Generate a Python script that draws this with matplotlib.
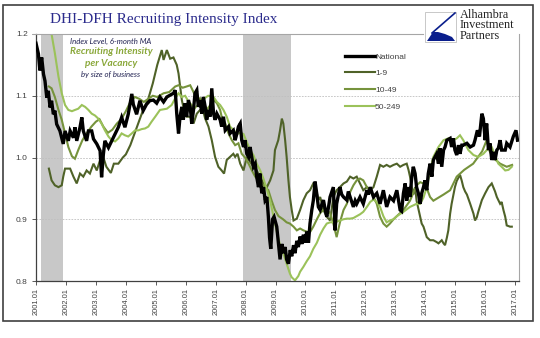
import matplotlib
matplotlib.use("Agg")
import matplotlib.pyplot as plt
from matplotlib.patches import Rectangle, Polygon
from matplotlib.lines import Line2D

# ---------------- data (decimal years, index level) ----------------
nat_t = [2001.00,2001.08,2001.13,2001.19,2001.25,2001.30,2001.36,2001.41,2001.47,2001.52,2001.58,2001.63,2001.69,2001.80,2001.91,2001.97,
         2002.08,2002.14,2002.25,2002.30,2002.36,2002.47,2002.53,2002.58,2002.69,2002.75,2002.86,2002.92,2003.03,2003.14,2003.19,2003.25,
         2003.30,2003.42,2003.53,2003.64,2003.75,2003.86,2003.97,2004.08,2004.20,2004.25,2004.36,2004.47,2004.58,2004.69,2004.80,2004.92,
         2005.03,2005.14,2005.26,2005.37,2005.48,2005.59,2005.65,2005.70,2005.76,2005.81,2005.87,2005.92,2005.98,2006.03,2006.09,2006.15,
         2006.20,2006.26,2006.31,2006.37,2006.42,2006.48,2006.54,2006.59,2006.65,2006.70,2006.76,2006.81,2006.87,2006.93,2006.98,2007.04,
         2007.15,2007.20,2007.26,2007.32,2007.43,2007.48,2007.59,2007.65,2007.71,2007.76,2007.82,2007.87,2007.93,2007.98,2008.04,2008.10,
         2008.15,2008.26,2008.32,2008.37,2008.43,2008.48,2008.54,2008.60,2008.65,2008.71,2008.76,2008.80,2008.84,2008.90,2008.95,2009.04,
         2009.10,2009.15,2009.21,2009.26,2009.32,2009.37,2009.43,2009.49,2009.54,2009.60,2009.65,2009.71,2009.76,2009.82,2009.88,2009.93,
         2009.99,2010.04,2010.10,2010.15,2010.21,2010.26,2010.32,2010.38,2010.43,2010.49,2010.55,2010.60,2010.66,2010.71,2010.77,2010.82,
         2010.88,2010.93,2010.99,2011.04,2011.10,2011.15,2011.21,2011.27,2011.38,2011.43,2011.49,2011.60,2011.66,2011.71,2011.82,2011.88,
         2011.93,2012.05,2012.10,2012.16,2012.27,2012.38,2012.49,2012.60,2012.71,2012.82,2012.94,2013.05,2013.16,2013.21,2013.27,2013.33,
         2013.38,2013.44,2013.49,2013.55,2013.60,2013.66,2013.71,2013.77,2013.83,2013.88,2013.94,2013.99,2014.05,2014.10,2014.16,2014.22,
         2014.27,2014.38,2014.44,2014.49,2014.55,2014.61,2014.66,2014.72,2014.83,2014.88,2014.94,2014.99,2015.05,2015.11,2015.16,2015.22,
         2015.27,2015.39,2015.50,2015.61,2015.66,2015.74,2015.81,2015.89,2015.94,2016.00,2016.05,2016.11,2016.16,2016.22,2016.28,2016.33,
         2016.39,2016.44,2016.50,2016.55,2016.67,2016.72,2016.83,2016.94,2017.03,2017.08]
nat_v = [1.185,1.168,1.141,1.162,1.135,1.124,1.097,1.108,1.081,1.092,1.070,1.076,1.054,1.043,1.022,1.043,
         1.027,1.043,1.032,1.049,1.027,1.049,1.065,1.043,1.027,1.043,1.043,1.030,1.022,1.011,0.968,1.005,
         1.027,1.016,1.027,1.038,1.049,1.065,1.049,1.070,1.103,1.086,1.070,1.092,1.076,1.086,1.092,1.093,
         1.088,1.098,1.090,1.098,1.101,1.104,1.109,1.071,1.039,1.066,1.082,1.061,1.088,1.066,1.093,1.082,
         1.055,1.077,1.104,1.109,1.082,1.093,1.071,1.098,1.082,1.061,1.077,1.066,1.112,1.071,1.061,1.071,
         1.061,1.050,1.066,1.044,1.050,1.039,1.044,1.028,1.039,1.050,1.055,1.028,1.017,1.028,1.006,1.001,
         1.017,0.985,0.990,0.969,0.952,0.974,0.942,0.952,0.931,0.936,0.904,0.870,0.852,0.900,0.904,0.888,
         0.860,0.835,0.860,0.845,0.855,0.835,0.828,0.850,0.840,0.858,0.845,0.865,0.855,0.872,0.860,0.875,
         0.862,0.880,0.862,0.893,0.915,0.930,0.961,0.940,0.920,0.915,0.925,0.931,0.915,0.904,0.920,0.936,
         0.945,0.952,0.882,0.925,0.940,0.952,0.940,0.936,0.931,0.945,0.936,0.920,0.930,0.925,0.936,0.930,
         0.925,0.947,0.940,0.952,0.936,0.942,0.925,0.947,0.920,0.936,0.930,0.947,0.915,0.913,0.942,0.958,
         0.930,0.952,0.936,0.969,0.985,0.974,0.952,0.942,0.925,0.942,0.952,0.963,0.947,0.974,0.990,0.969,
         0.996,1.006,0.990,1.015,0.985,1.012,1.017,1.028,1.031,1.017,1.031,1.012,1.004,1.020,1.006,1.020,
         1.020,1.023,1.017,1.020,1.028,1.044,1.034,1.071,1.063,1.028,1.055,1.012,1.023,0.996,1.009,0.996,
         1.012,1.015,1.028,1.012,1.012,1.023,1.017,1.034,1.044,1.028]

s19_t = [2001.43,2001.52,2001.63,2001.75,2001.86,2001.91,2001.97,2002.14,2002.25,2002.36,2002.47,2002.58,2002.69,2002.80,2002.92,2003.03,
         2003.14,2003.25,2003.35,2003.50,2003.60,2003.75,2003.90,2004.00,2004.15,2004.30,2004.45,2004.60,2004.75,2004.90,2005.05,2005.20,
         2005.26,2005.37,2005.48,2005.59,2005.70,2005.76,2005.87,2005.92,2006.03,2006.15,2006.26,2006.37,2006.48,2006.59,2006.65,2006.76,
         2006.87,2006.98,2007.09,2007.20,2007.28,2007.37,2007.48,2007.59,2007.65,2007.73,2007.82,2007.93,2008.04,2008.15,2008.26,2008.37,
         2008.48,2008.60,2008.71,2008.82,2008.93,2008.98,2009.09,2009.15,2009.21,2009.26,2009.32,2009.37,2009.43,2009.48,2009.54,2009.60,
         2009.71,2009.82,2009.93,2010.04,2010.15,2010.26,2010.32,2010.38,2010.43,2010.49,2010.60,2010.71,2010.82,2010.93,2011.04,2011.15,
         2011.27,2011.38,2011.49,2011.60,2011.71,2011.82,2011.93,2012.05,2012.16,2012.27,2012.38,2012.49,2012.60,2012.71,2012.82,2012.94,
         2013.05,2013.16,2013.27,2013.38,2013.44,2013.49,2013.55,2013.60,2013.66,2013.71,2013.83,2013.88,2013.94,2014.05,2014.16,2014.27,
         2014.38,2014.44,2014.55,2014.61,2014.66,2014.72,2014.77,2014.83,2014.88,2014.94,2014.99,2015.05,2015.16,2015.22,2015.27,2015.33,
         2015.39,2015.50,2015.61,2015.66,2015.72,2015.77,2015.89,2016.00,2016.11,2016.22,2016.33,2016.39,2016.50,2016.55,2016.61,2016.67,
         2016.72,2016.83,2016.89]
s19_v = [0.982,0.963,0.955,0.952,0.955,0.969,0.982,0.982,0.969,0.958,0.974,0.969,0.979,0.974,0.990,0.979,
         0.996,1.000,0.985,0.975,0.990,0.990,1.000,1.005,1.020,1.040,1.060,1.080,1.095,1.120,1.150,1.174,
         1.158,1.174,1.160,1.162,1.150,1.136,1.093,1.082,1.066,1.066,1.055,1.071,1.077,1.074,1.063,1.050,
         1.028,1.001,0.985,0.979,0.974,0.996,1.001,1.006,1.001,1.006,0.990,0.979,1.001,0.993,0.985,0.979,
         0.969,0.958,0.952,0.963,0.979,1.012,1.028,1.044,1.063,1.055,1.028,1.001,0.963,0.936,0.915,0.898,
         0.901,0.915,0.931,0.942,0.947,0.958,0.955,0.942,0.931,0.936,0.915,0.904,0.898,0.936,0.947,0.952,
         0.958,0.961,0.969,0.966,0.969,0.958,0.947,0.952,0.947,0.952,0.969,0.988,0.985,0.988,0.985,0.988,
         0.990,0.985,0.988,0.990,0.980,0.969,0.952,0.940,0.952,0.930,0.904,0.893,0.888,0.871,0.866,0.866,
         0.863,0.861,0.866,0.861,0.858,0.870,0.882,0.909,0.925,0.940,0.952,0.962,0.972,0.962,0.952,0.945,
         0.940,0.925,0.909,0.898,0.903,0.912,0.931,0.942,0.952,0.958,0.945,0.936,0.925,0.928,0.915,0.904,
         0.890,0.888,0.888]

s1049_t = [2001.43,2001.52,2001.63,2001.75,2001.86,2001.97,2002.08,2002.20,2002.30,2002.41,2002.55,2002.69,2002.85,2003.00,2003.12,2003.25,
           2003.40,2003.55,2003.70,2003.85,2004.00,2004.15,2004.30,2004.45,2004.60,2004.75,2004.90,2005.05,2005.26,2005.45,2005.65,2005.76,
           2005.90,2006.03,2006.15,2006.26,2006.37,2006.48,2006.59,2006.70,2006.82,2006.93,2007.04,2007.15,2007.20,2007.32,2007.43,2007.54,
           2007.65,2007.76,2007.87,2007.98,2008.10,2008.21,2008.32,2008.43,2008.54,2008.65,2008.76,2008.87,2008.98,2009.10,2009.25,2009.37,
           2009.48,2009.60,2009.71,2009.82,2009.93,2010.04,2010.15,2010.26,2010.38,2010.49,2010.60,2010.71,2010.82,2010.93,2011.04,2011.15,
           2011.27,2011.38,2011.50,2011.60,2011.71,2011.82,2011.93,2012.05,2012.16,2012.27,2012.38,2012.49,2012.60,2012.71,2012.82,2012.94,
           2013.05,2013.27,2013.49,2013.71,2013.83,2013.94,2014.05,2014.16,2014.27,2014.44,2014.61,2014.83,2015.05,2015.30,2015.60,2015.90,
           2016.05,2016.15,2016.30,2016.50,2016.72,2016.90]
s1049_v = [1.115,1.112,1.098,1.077,1.061,1.039,1.017,1.002,0.998,1.012,1.028,1.039,1.050,1.058,1.062,1.050,
           1.040,1.045,1.055,1.062,1.075,1.090,1.098,1.095,1.090,1.095,1.100,1.098,1.104,1.106,1.115,1.117,
           1.113,1.115,1.117,1.106,1.093,1.096,1.090,1.077,1.085,1.093,1.088,1.077,1.066,1.055,1.039,1.028,
           1.020,1.023,1.006,1.000,0.990,0.979,0.969,0.963,0.958,0.952,0.947,0.930,0.915,0.905,0.900,0.895,
           0.893,0.888,0.882,0.885,0.882,0.880,0.879,0.888,0.900,0.910,0.915,0.915,0.910,0.893,0.871,0.895,
           0.915,0.925,0.945,0.955,0.963,0.966,0.963,0.952,0.947,0.936,0.925,0.904,0.893,0.888,0.893,0.900,
           0.905,0.915,0.930,0.955,0.960,0.958,0.950,0.936,0.930,0.935,0.940,0.947,0.969,0.980,0.990,1.010,
           1.028,1.010,0.998,0.990,0.985,0.988]

s50_t = [2001.43,2001.52,2001.63,2001.75,2001.86,2001.97,2002.08,2002.20,2002.30,2002.41,2002.53,2002.64,2002.75,2002.86,2002.97,2003.08,
         2003.19,2003.30,2003.42,2003.53,2003.64,2003.75,2003.86,2003.97,2004.08,2004.20,2004.31,2004.42,2004.53,2004.64,2004.75,2004.86,
         2004.98,2005.14,2005.37,2005.53,2005.65,2005.76,2005.87,2005.98,2006.10,2006.20,2006.30,2006.45,2006.60,2006.75,2006.93,2007.04,
         2007.15,2007.26,2007.37,2007.48,2007.59,2007.71,2007.82,2007.93,2008.04,2008.15,2008.26,2008.37,2008.48,2008.60,2008.71,2008.82,
         2008.93,2009.04,2009.15,2009.26,2009.37,2009.48,2009.54,2009.65,2009.76,2009.82,2009.93,2010.04,2010.15,2010.26,2010.38,2010.49,
         2010.60,2010.71,2010.82,2010.93,2011.04,2011.15,2011.27,2011.38,2011.49,2011.60,2011.71,2011.82,2011.93,2012.05,2012.16,2012.27,
         2012.38,2012.49,2012.60,2012.71,2012.82,2012.94,2013.05,2013.27,2013.49,2013.71,2013.83,2013.94,2014.05,2014.16,2014.27,2014.44,
         2014.61,2014.77,2014.94,2015.05,2015.16,2015.27,2015.44,2015.61,2015.77,2015.94,2016.11,2016.22,2016.33,2016.44,2016.55,2016.67,
         2016.78,2016.89]
s50_v = [1.225,1.200,1.169,1.131,1.104,1.085,1.077,1.075,1.077,1.079,1.085,1.082,1.077,1.071,1.068,1.063,
         1.055,1.044,1.034,1.028,1.026,1.031,1.039,1.036,1.034,1.039,1.044,1.044,1.046,1.047,1.050,1.058,
         1.066,1.077,1.079,1.085,1.096,1.104,1.098,1.100,1.090,1.085,1.080,1.087,1.095,1.100,1.098,1.090,
         1.085,1.077,1.066,1.050,1.045,1.038,1.040,1.038,1.025,1.012,1.004,0.990,0.980,0.965,0.948,0.930,
         0.905,0.880,0.858,0.845,0.828,0.812,0.806,0.801,0.808,0.815,0.823,0.832,0.840,0.852,0.862,0.875,
         0.885,0.893,0.895,0.895,0.896,0.898,0.900,0.901,0.901,0.902,0.905,0.908,0.912,0.920,0.928,0.932,
         0.928,0.920,0.905,0.895,0.898,0.900,0.905,0.912,0.920,0.925,0.925,0.935,0.952,0.979,1.001,1.017,
         1.028,1.031,1.028,1.031,1.036,1.028,1.012,1.004,1.001,1.006,1.015,1.017,1.003,0.990,0.985,0.979,
         0.980,0.985]

series_names = ["National", "1-9", "10-49", "50-249"]
series_colors = ["#000000", "#4F6228", "#76933C", "#9BC25A"]
series_widths = [2.4, 1.5, 1.5, 1.5]
recessions = [(2001.17, 2001.90), (2007.92, 2009.50)]
year_ticks = list(range(2001, 2018))
year_labels = [f"{y}.01" for y in year_ticks]
y_ticks = [0.8, 0.9, 1.0, 1.1, 1.2]

# ---------------- figure ----------------
W, H = 540, 338
fig = plt.figure(figsize=(W / 100, H / 100), dpi=100)
fig.patch.set_facecolor("white")

def fx(px):
    return px / W

def fy(py):
    return 1 - py / H

ax = fig.add_axes([fx(36), fy(281), fx(519) - fx(36), fy(34) - fy(281)])
ax.set_xlim(2001.0, 2017.13)
ax.set_ylim(0.8, 1.2)

for a, b in recessions:
    ax.axvspan(a, b, color="#C8C8C8", lw=0, zorder=0)

for v in [0.9, 1.0, 1.1]:
    ax.axhline(v, color="#BFBFBF", lw=0.6, ls=(0, (2, 1.5)), zorder=0.5)

data = [(nat_t, nat_v), (s19_t, s19_v), (s1049_t, s1049_v), (s50_t, s50_v)]
order = [1, 2, 3, 0]
handles = {}
for i in order:
    t, v = data[i]
    ln, = ax.plot(t, v, color=series_colors[i], lw=series_widths[i], label=series_names[i],
                  solid_joinstyle="miter", zorder=2 + (1 if i == 0 else 0))
    handles[i] = ln

ax.set_xticks(year_ticks)
ax.set_xticklabels(year_labels, rotation=90, fontsize=5.4, family="Liberation Sans", color="#404040")
ax.set_yticks(y_ticks)
ax.set_yticklabels([f"{v:.1f}" for v in y_ticks], fontsize=6.0, family="Liberation Sans", color="#404040")
ax.tick_params(axis="x", length=3, width=0.6, color="#404040", pad=2)
ax.tick_params(axis="y", length=3, width=0.6, color="#404040", pad=3)

ax.spines["top"].set_visible(False)
ax.spines["right"].set_color("#A6A6A6")
ax.spines["right"].set_linewidth(0.8)
ax.spines["left"].set_color("#404040")
ax.spines["left"].set_linewidth(0.9)
ax.spines["bottom"].set_color("#404040")
ax.spines["bottom"].set_linewidth(0.9)

leg = ax.legend([handles[i] for i in range(4)], series_names, loc="upper left",
                bbox_to_anchor=((345 - 36) / (519 - 36), 1 - (53 - 34) / (281 - 34)),
                frameon=False, handlelength=3.6, handletextpad=0.0,
                labelspacing=1.05, borderaxespad=0, borderpad=0,
                prop={"family": "Liberation Sans", "size": 6})
for txt in leg.get_texts():
    txt.set_color("#404040")

# annotations inside plot
ax.text((111 - 36) / 483, 1 - (41 - 34) / 247, "Index Level, 6-month MA", transform=ax.transAxes,
        ha="center", va="center", fontsize=5.6, style="italic", family="Lato", color="#1F2050")
ax.text((111 - 36) / 483, 1 - (52 - 34) / 247, "Recruiting Intensity", transform=ax.transAxes,
        ha="center", va="center", fontsize=7.2, style="italic", weight="bold", family="Lato", color="#8AA83A")
ax.text((111 - 36) / 483, 1 - (63 - 34) / 247, "per Vacancy", transform=ax.transAxes,
        ha="center", va="center", fontsize=7.2, style="italic", weight="bold", family="Lato", color="#8AA83A")
ax.text((111 - 36) / 483, 1 - (74 - 34) / 247, "by size of business", transform=ax.transAxes,
        ha="center", va="center", fontsize=5.6, style="italic", family="Lato", color="#1F2050")

# title and decorations (figure coords)
fig.text(fx(50), fy(20), "DHI-DFH Recruiting Intensity Index", ha="left", va="center",
         fontsize=11, family="Liberation Serif", color="#2B2B8C")
fig.add_artist(Line2D([fx(33), fx(423)], [fy(33.5), fy(33.5)], color="#A6A6A6", lw=0.8))

# outer frame
fig.add_artist(Rectangle((fx(3), fy(321)), fx(533) - fx(3), fy(5) - fy(321), fill=False,
                         edgecolor="#404040", lw=1.2))

# logo
fig.add_artist(Rectangle((fx(425), fy(42)), fx(456) - fx(425), fy(12) - fy(42), fill=False,
                         edgecolor="#BFBFBF", lw=0.6))
fig.add_artist(Polygon([(fx(427), fy(41)), (fx(455), fy(41)), (fx(452), fy(37)),
                        (fx(445), fy(34)), (fx(438), fy(32)), (fx(433), fy(32))],
                       closed=True, color="#0A1E8C", lw=0))
fig.add_artist(Line2D([fx(455), fx(432)], [fy(13), fy(33)], color="#0A1E8C", lw=1.2))
for k, word in enumerate(["Alhambra", "Investment", "Partners"]):
    fig.text(fx(460), fy(15 + 10.5 * k), word, ha="left", va="center", fontsize=8.8,
             family="Liberation Serif", color="#222222")

fig.savefig("out.png", dpi=100, facecolor="white")
